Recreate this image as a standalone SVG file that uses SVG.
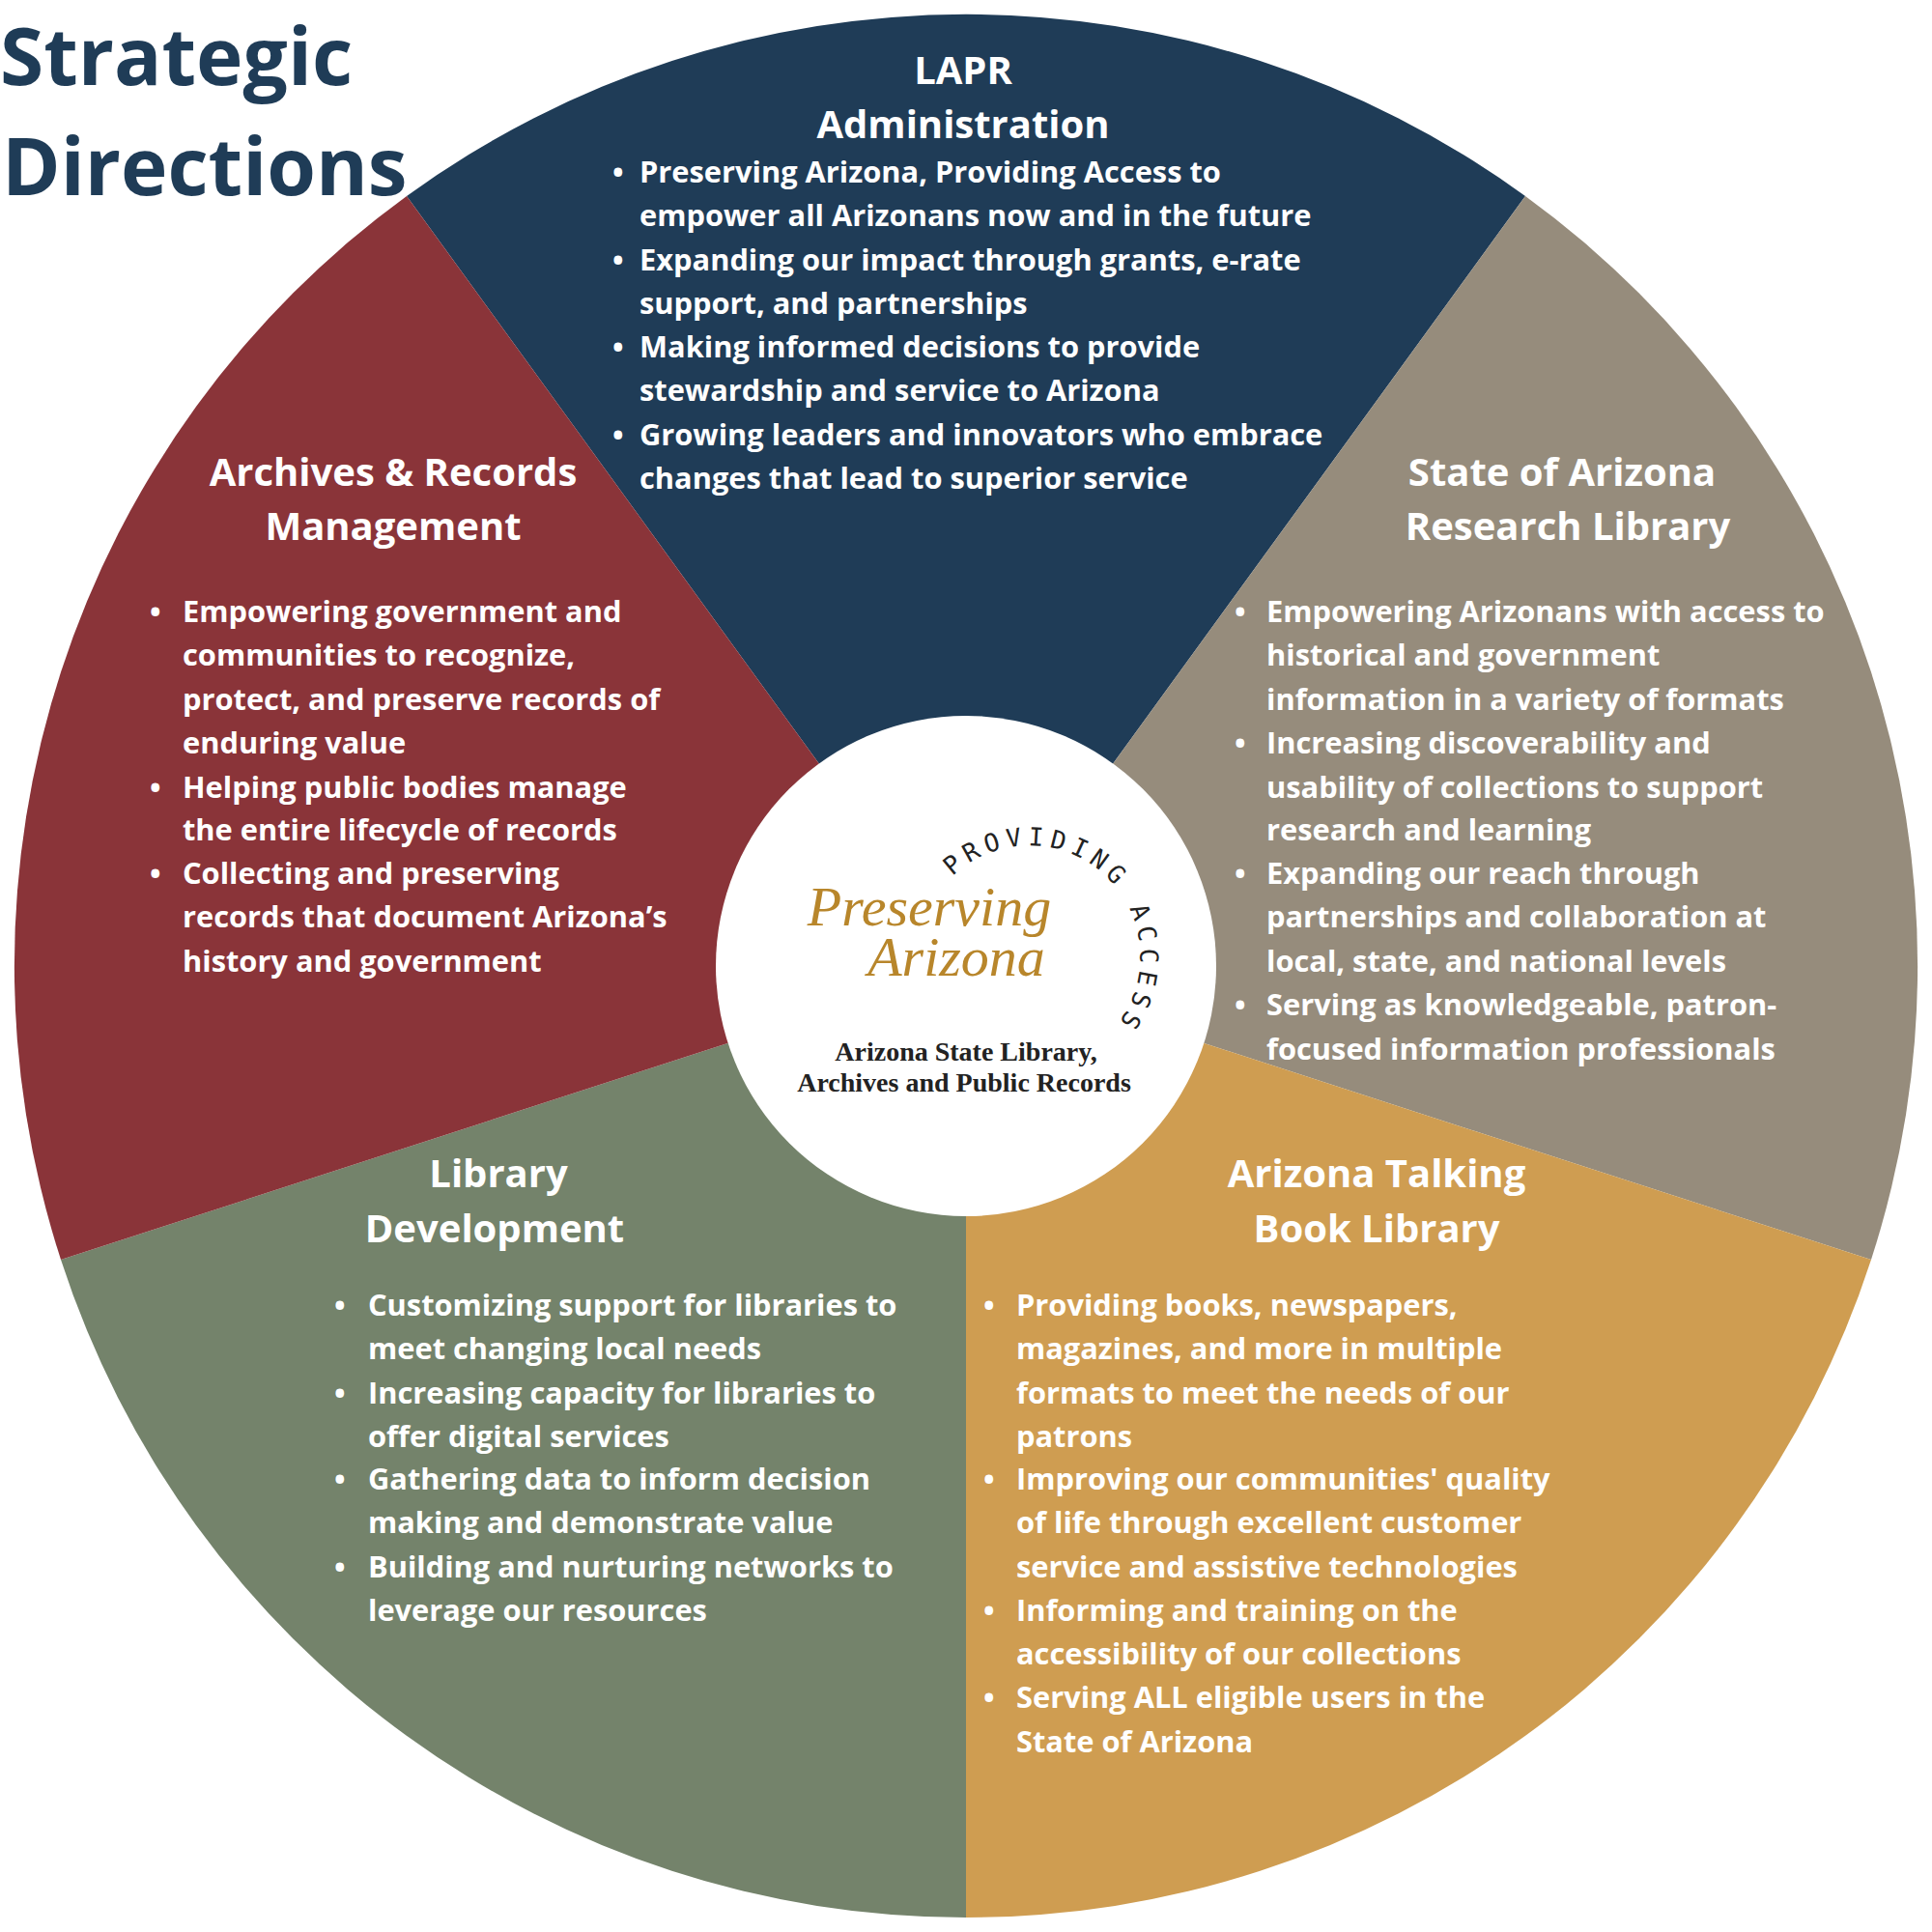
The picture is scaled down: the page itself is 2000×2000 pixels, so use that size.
<svg xmlns="http://www.w3.org/2000/svg" width="2000" height="2000" viewBox="0 0 2000 2000">
<style>
.h{font-family:"Open Sans","Liberation Sans",sans-serif;font-weight:700;font-size:40px;fill:#fff;text-anchor:middle}
.b{font-family:"Open Sans","Liberation Sans",sans-serif;font-weight:700;font-size:30.8px;fill:#fff}
.t{font-family:"Open Sans","Liberation Sans",sans-serif;font-weight:700;font-size:82px;fill:#1f3c57}
</style>
<rect width="2000" height="2000" fill="#fff"/>
<g id="sectors">
<path d="M1000 1000 L421 203 A985 985 0 0 1 1579 203 Z" fill="#1f3c57"/>
<path d="M1000 1000 L1579 203 A985 985 0 0 1 1937 1304 Z" fill="#968c7c"/>
<path d="M1000 1000 L1937 1304 A985 985 0 0 1 1000 1985 Z" fill="#cf9d51"/>
<path d="M1000 1000 L1000 1985 A985 985 0 0 1 63 1304 Z" fill="#74836b"/>
<path d="M1000 1000 L63 1304 A985 985 0 0 1 421 203 Z" fill="#8a3439"/>
</g>
<g id="title"><text class="t" x="0" y="88">Strategic</text><text class="t" x="2" y="202">Directions</text></g>
<g id="admin">
<text class="h" x="997" y="87">LAPR</text><text class="h" x="997" y="143">Administration</text>
<text class="b"><tspan x="634" y="189">•</tspan><tspan x="662" y="189">Preserving Arizona, Providing Access to</tspan><tspan x="662" y="234">empower all Arizonans now and in the future</tspan><tspan x="634" y="280">•</tspan><tspan x="662" y="280">Expanding our impact through grants, e-rate</tspan><tspan x="662" y="325">support, and partnerships</tspan><tspan x="634" y="370">•</tspan><tspan x="662" y="370">Making informed decisions to provide</tspan><tspan x="662" y="415">stewardship and service to Arizona</tspan><tspan x="634" y="461">•</tspan><tspan x="662" y="461">Growing leaders and innovators who embrace</tspan><tspan x="662" y="506">changes that lead to superior service</tspan></text>
</g>
<g id="archives">
<text class="h" x="407" y="503">Archives &amp; Records</text><text class="h" x="407" y="559">Management</text>
<text class="b"><tspan x="155" y="644">•</tspan><tspan x="189" y="644">Empowering government and</tspan><tspan x="189" y="689">communities to recognize,</tspan><tspan x="189" y="735">protect, and preserve records of</tspan><tspan x="189" y="780">enduring value</tspan><tspan x="155" y="826">•</tspan><tspan x="189" y="826">Helping public bodies manage</tspan><tspan x="189" y="870">the entire lifecycle of records</tspan><tspan x="155" y="915">•</tspan><tspan x="189" y="915">Collecting and preserving</tspan><tspan x="189" y="960">records that document Arizona’s</tspan><tspan x="189" y="1006">history and government</tspan></text>
</g>
<g id="research">
<text class="h" x="1617" y="503">State of Arizona</text><text class="h" x="1623" y="559">Research Library</text>
<text class="b"><tspan x="1278" y="644">•</tspan><tspan x="1311" y="644">Empowering Arizonans with access to</tspan><tspan x="1311" y="689">historical and government</tspan><tspan x="1311" y="735">information in a variety of formats</tspan><tspan x="1278" y="780">•</tspan><tspan x="1311" y="780">Increasing discoverability and</tspan><tspan x="1311" y="826">usability of collections to support</tspan><tspan x="1311" y="870">research and learning</tspan><tspan x="1278" y="915">•</tspan><tspan x="1311" y="915">Expanding our reach through</tspan><tspan x="1311" y="960">partnerships and collaboration at</tspan><tspan x="1311" y="1006">local, state, and national levels</tspan><tspan x="1278" y="1051">•</tspan><tspan x="1311" y="1051">Serving as knowledgeable, patron-</tspan><tspan x="1311" y="1097">focused information professionals</tspan></text>
</g>
<g id="development">
<text class="h" x="516" y="1229">Library</text><text class="h" x="512" y="1286">Development</text>
<text class="b"><tspan x="346" y="1362">•</tspan><tspan x="381" y="1362">Customizing support for libraries to</tspan><tspan x="381" y="1407">meet changing local needs</tspan><tspan x="346" y="1453">•</tspan><tspan x="381" y="1453">Increasing capacity for libraries to</tspan><tspan x="381" y="1498">offer digital services</tspan><tspan x="346" y="1542">•</tspan><tspan x="381" y="1542">Gathering data to inform decision</tspan><tspan x="381" y="1587">making and demonstrate value</tspan><tspan x="346" y="1633">•</tspan><tspan x="381" y="1633">Building and nurturing networks to</tspan><tspan x="381" y="1678">leverage our resources</tspan></text>
</g>
<g id="talking">
<text class="h" x="1425" y="1229">Arizona Talking</text><text class="h" x="1425" y="1286">Book Library</text>
<text class="b"><tspan x="1018" y="1362">•</tspan><tspan x="1052" y="1362">Providing books, newspapers,</tspan><tspan x="1052" y="1407">magazines, and more in multiple</tspan><tspan x="1052" y="1453">formats to meet the needs of our</tspan><tspan x="1052" y="1498">patrons</tspan><tspan x="1018" y="1542">•</tspan><tspan x="1052" y="1542">Improving our communities' quality</tspan><tspan x="1052" y="1587">of life through excellent customer</tspan><tspan x="1052" y="1633">service and assistive technologies</tspan><tspan x="1018" y="1678">•</tspan><tspan x="1052" y="1678">Informing and training on the</tspan><tspan x="1052" y="1723">accessibility of our collections</tspan><tspan x="1018" y="1768">•</tspan><tspan x="1052" y="1768">Serving ALL eligible users in the</tspan><tspan x="1052" y="1814">State of Arizona</tspan></text>
</g>
<g id="logo">
<circle cx="1000" cy="1000" r="259" fill="#fff"/>
<path id="arc" d="M986 907 A115 115 0 0 1 1159 1057" fill="none"/>
<text font-family="'DejaVu Sans Mono','Liberation Mono',monospace" font-size="26" fill="#222"><textPath href="#arc" textLength="340" lengthAdjust="spacing">PROVIDING ACCESS</textPath></text>
<text x="962" y="958" font-family="'Liberation Serif',serif" font-style="italic" font-size="58" fill="#b8862b" text-anchor="middle">Preserving</text>
<text x="990" y="1010" font-family="'Liberation Serif',serif" font-style="italic" font-size="58" fill="#b8862b" text-anchor="middle">Arizona</text>
<text x="1000" y="1098" font-family="'Liberation Serif',serif" font-weight="700" font-size="28" fill="#222" text-anchor="middle">Arizona State Library,</text>
<text x="998" y="1130" font-family="'Liberation Serif',serif" font-weight="700" font-size="28" fill="#222" text-anchor="middle">Archives and Public Records</text>
</g>
</svg>
